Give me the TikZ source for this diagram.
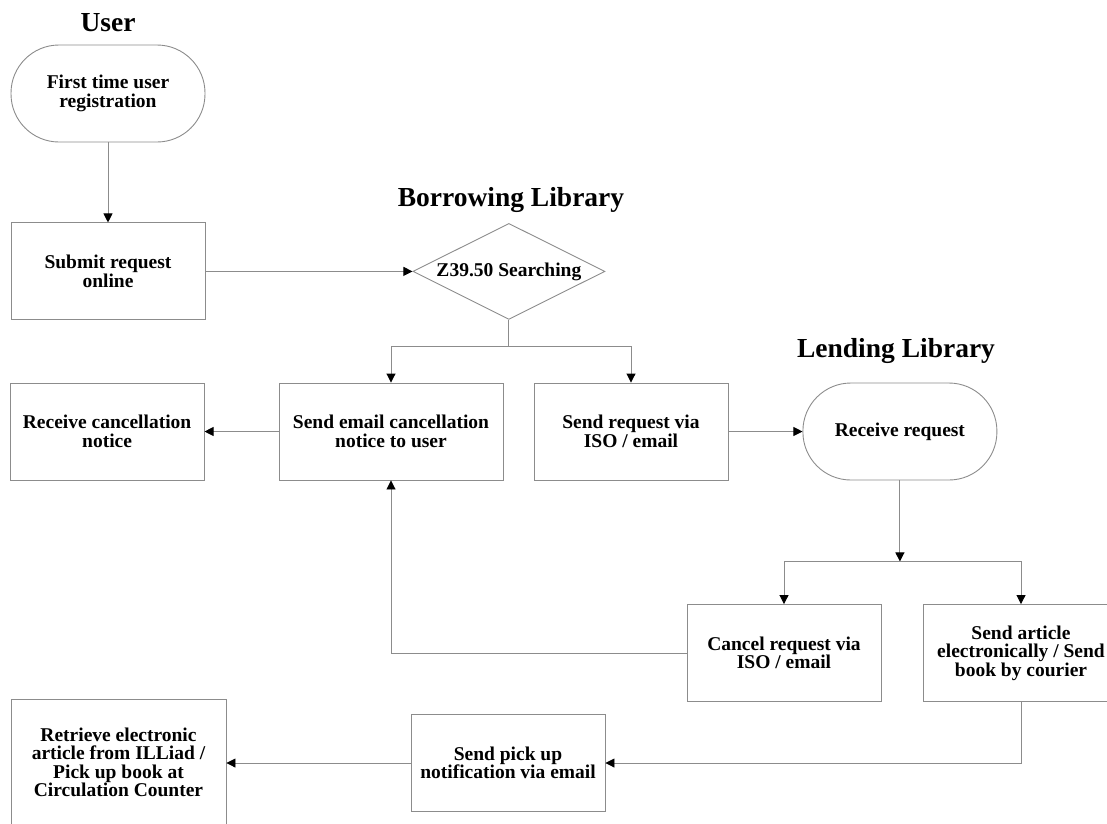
\documentclass[tikz,border=0pt]{standalone}
\usepackage{fontspec}
\setmainfont{Liberation Serif}
\usepackage{xcolor}
\usetikzlibrary{positioning, arrows.meta, shapes.geometric}
\definecolor{edge}{HTML}{8C8C8C}
\definecolor{ink}{HTML}{000000}

\begin{document}
\begin{tikzpicture}[
  x=1pt, y=-1pt,
  font=\fontsize{19.5}{18.5}\selectfont\bfseries,
  >={Triangle[length=9pt, width=9pt, color=ink]},
  box/.style={rectangle, draw=edge, line width=0.9pt, align=center, text=ink,
              minimum width=194pt, minimum height=97pt, inner sep=2pt},
  term/.style={box, rounded corners=48pt},
  decide/.style={diamond, aspect=2, draw=edge, line width=0.9pt, align=center, text=ink,
                 minimum width=192pt, minimum height=96pt, inner sep=0pt},
  lane/.style={font=\fontsize{27.5}{30}\selectfont\bfseries, text=ink, anchor=base},
  arr/.style={->, line width=0.9pt, draw=edge},
  wire/.style={line width=0.9pt, draw=edge},
]
\useasboundingbox (0,0) rectangle (1107,823);

% ---------------- lane titles ----------------
\node[lane] (tuser) at (108,31) {User};
\node[lane] (tborrow) at (511,206) {Borrowing Library};
\node[lane] (tlend) at (896,357) {Lending Library};

% ---------------- User ----------------
\node[term] (reg) at (108,93.5) {First time user\\registration};
\node[box, below=80pt of reg] (submit) {Submit request\\online};
\draw[arr] (reg.south) -- (submit.north);

% ---------------- Borrowing library ----------------
\node[decide, right=207pt of submit] (search) {Z39.50 Searching};
\draw[arr] (submit.east) -- (search.west);

\node[box, minimum width=224pt] (mail) at (391,431.5) {Send email cancellation\\notice to user};
\node[box] (iso) at (631,431.5) {Send request via\\ISO / email};
\node[box, left=74pt of mail] (cancnote) {Receive cancellation\\notice};

\coordinate (fork1) at (search.south |- 0,346);
\draw[wire] (search.south) -- (fork1);
\draw[arr] (fork1) -| (mail.north);
\draw[arr] (fork1) -| (iso.north);
\draw[arr] (mail.west) -- (cancnote.east);

% ---------------- Lending library ----------------
\node[term, right=74pt of iso] (receive) {Receive request};
\draw[arr] (iso.east) -- (receive.west);

\coordinate[below=81pt of receive.south] (fork2);
\draw[arr] (receive.south) -- (fork2);

\node[box] (cancel) at (784,653) {Cancel request via\\ISO / email};
\node[box, minimum width=196pt] (send) at (1021,653) {Send article\\electronically / Send\\book by courier};
\draw[arr] (fork2) -| (cancel.north);
\draw[arr] (fork2) -| (send.north);
\draw[arr] (cancel.west) -| (mail.south);

% ---------------- pick up ----------------
\node[box] (notify) at (508,763) {Send pick up\\notification via email};
\node[box, minimum width=215pt, minimum height=127pt] (collect) at (118.5,762.5)
  {Retrieve electronic\\article from ILLiad /\\Pick up book at\\Circulation Counter};
\draw[arr] (send.south) |- (notify.east);
\draw[arr] (notify.west) -- (notify.west -| collect.east);

\end{tikzpicture}
\end{document}
